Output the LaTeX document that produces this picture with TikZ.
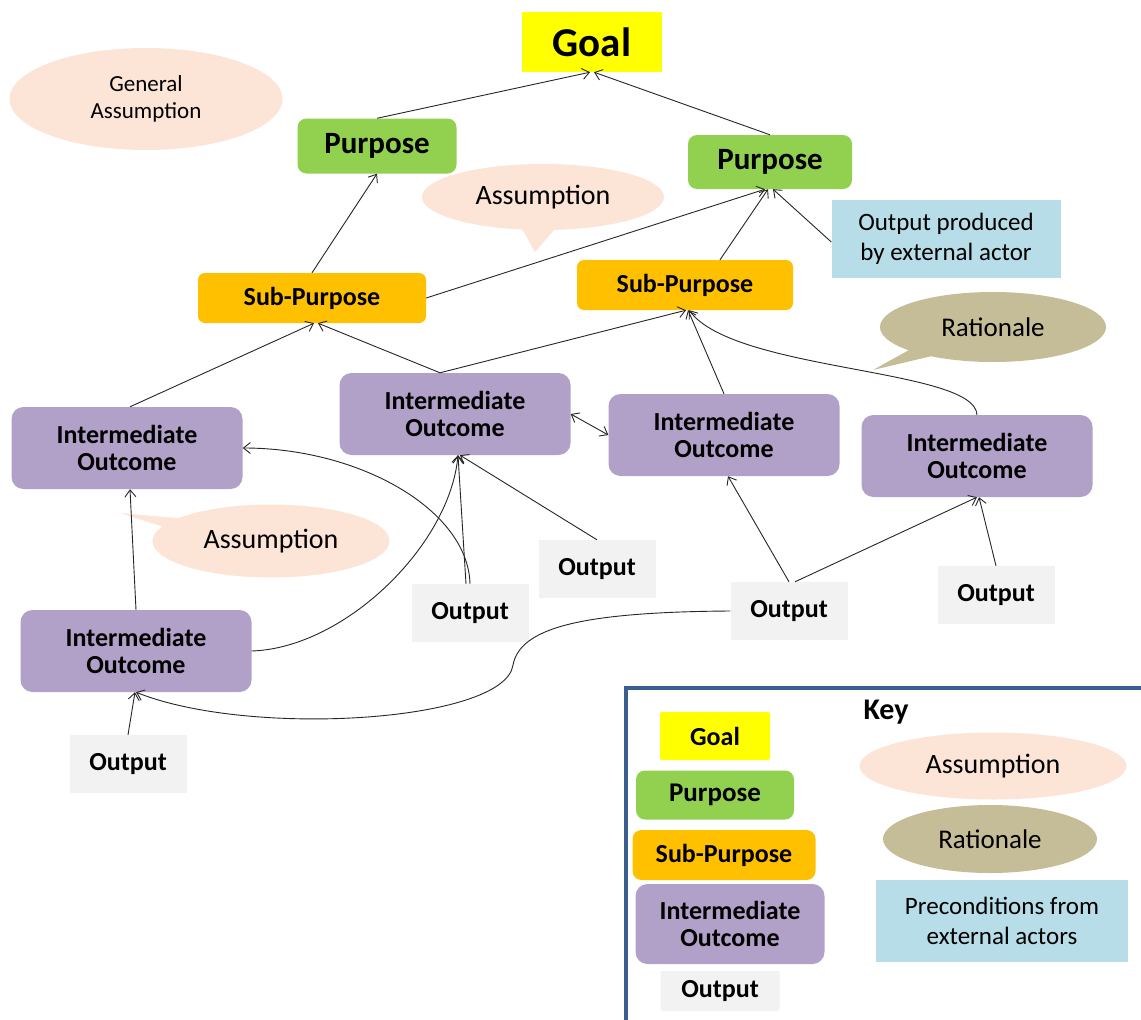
\documentclass[tikz,border=0pt]{standalone}
\usepackage{fontspec}
\setmainfont{Carlito}
\usepackage{xcolor}
\usetikzlibrary{arrows.meta,shapes.geometric,shapes.callouts}
\definecolor{goalc}{HTML}{FFFF00}
\definecolor{purpc}{HTML}{92D050}
\definecolor{subpc}{HTML}{FFC000}
\definecolor{interc}{HTML}{B1A0C7}
\definecolor{outc}{HTML}{F2F2F2}
\definecolor{extc}{HTML}{B7DEE8}
\definecolor{asmc}{HTML}{FCE4D6}
\definecolor{ratc}{HTML}{C4BD97}
\definecolor{keyc}{HTML}{3A5F8E}

\begin{document}
\begin{tikzpicture}[x=1pt, y=-1pt, box/.style={inner sep=0pt, align=center, font=\bfseries\fontsize{26}{27}\selectfont}, goal/.style={box,fill=goalc}, purp/.style={box,fill=purpc,rounded corners=9pt,font=\bfseries\fontsize{31}{32}\selectfont}, subp/.style={box,fill=subpc,rounded corners=7pt}, inter/.style={box,fill=interc,rounded corners=12pt,minimum width=231pt,minimum height=82pt}, outp/.style={box,fill=outc,minimum width=117pt,minimum height=58pt}, ext/.style={box,fill=extc,font=\fontsize{25}{30}\selectfont}, asm/.style={ellipse,inner sep=0pt,align=center,fill=asmc,font=\fontsize{28}{29}\selectfont}, rat/.style={asm,fill=ratc,font=\fontsize{27}{28}\selectfont}, arr/.style={-{Straight Barb[length=7pt,width=11pt]},line width=0.9pt,draw=black!85}, darr/.style={arr,{Straight Barb[length=7pt,width=11pt]}-{Straight Barb[length=7pt,width=11pt]}}]
\fill[white] (0,0) rectangle (1141,1020);
\useasboundingbox (0,0) rectangle (1141,1020);
% main chart
\node[goal,minimum width=140pt,minimum height=60pt,font=\bfseries\fontsize{41}{41}\selectfont] (g) at (592,42) {Goal};
\node[purp,minimum width=159pt,minimum height=55pt] (p1) at (377,146) {Purpose};
\node[purp,minimum width=164pt,minimum height=54pt] (p2) at (770,162) {Purpose};
\node[ext,minimum width=229pt,minimum height=78pt] (ex) at (946,239) {Output produced\\by external actor};
\node[subp,minimum width=228pt,minimum height=50pt] (sp1) at (312,298) {Sub-Purpose};
\node[subp,minimum width=216pt,minimum height=50pt] (sp2) at (685,285) {Sub-Purpose};
\node[inter] (io1) at (127,448) {Intermediate\\Outcome};
\node[inter] (io2) at (455,414) {Intermediate\\Outcome};
\node[inter] (io3) at (724,435) {Intermediate\\Outcome};
\node[inter] (io4) at (977,456) {Intermediate\\Outcome};
\node[inter] (io5) at (136,651) {Intermediate\\Outcome};
\node[outp] (o1) at (470,613) {Output};
\node[outp] (o2) at (597,569) {Output};
\node[outp] (o3) at (789,611) {Output};
\node[outp] (o4) at (996,595) {Output};
\node[outp] (o5) at (128,764) {Output};
% assumptions and rationale
\node[asm,minimum width=273pt,minimum height=102pt,font=\fontsize{23}{27}\selectfont] (ga) at (146,99) {General\\Assumption};
\node[asm,ellipse callout,callout absolute pointer={(535,252)},minimum width=242pt,minimum height=66pt] (a1) at (543,197) {Assumption};
\node[rat,ellipse callout,callout absolute pointer={(873,370)},minimum width=226pt,minimum height=70pt] (r1) at (993,327) {Rationale};
\node[asm,ellipse callout,callout absolute pointer={(120,513)},minimum width=237pt,minimum height=73pt] (a2) at (271,541) {Assumption};
% links
\draw[arr] (p1.north) -- ([xshift=-2pt]g.south);
\draw[arr] (p2.north) -- ([xshift=2pt]g.south);
\draw[arr] (sp1.north) -- (p1.south);
\draw[arr] (sp1.east) -- ([xshift=-5pt]p2.south);
\draw[arr] ([xshift=35pt]sp2.north) -- ([xshift=-2pt]p2.south);
\draw[arr] ([yshift=-3pt]ex.west) -- ([xshift=3pt]p2.south);
\draw[arr] ([xshift=3pt]io1.north) -- ([xshift=2pt]sp1.south);
\draw[arr] ([xshift=-15pt]io2.north) -- ([xshift=6pt]sp1.south);
\draw[arr] ([xshift=-15pt]io2.north) -- ([xshift=1pt]sp2.south);
\draw[arr] (io3.north) -- ([xshift=3pt]sp2.south);
\draw[arr] (io4.north) .. controls (975,368) and (735,372) .. ([xshift=4pt]sp2.south);
\draw[darr] (io2.east) -- (io3.west);
\draw[arr] (io5.north) -- ([xshift=3pt]io1.south);
\draw[arr] (io5.east) .. controls (345,648) and (450,545) .. ([xshift=3pt]io2.south);
\draw[arr] (o1.north) .. controls (468,510) and (360,448) .. (io1.east);
\draw[arr] ([xshift=-4pt]o1.north) -- ([xshift=3pt]io2.south);
\draw[arr] (o2.north) -- ([xshift=5pt]io2.south);
\draw[arr] (o3.north) -- ([xshift=4pt]io3.south);
\draw[arr] ([xshift=6pt]o3.north) -- (io4.south);
\draw[arr] (o4.north) -- ([xshift=2pt]io4.south);
\draw[arr] (o3.west) .. controls (580,612) and (520,628) .. (513,665) .. controls (505,722) and (250,738) .. (io5.south);
\draw[arr] (o5.north) -- ([xshift=-1pt]io5.south);
% key
\draw[keyc,line width=4pt] (626,1040) -- (626,688) -- (1160,688);
\node[font=\bfseries\fontsize{30}{30}\selectfont] (kt) at (886,712) {Key};
\node[goal,rounded corners=2pt,minimum width=110pt,minimum height=48pt] (kg) at (715,736) {Goal};
\node[purp,font=\bfseries\fontsize{27}{27}\selectfont,minimum width=158pt,minimum height=49pt] (kp) at (715,795) {Purpose};
\node[subp,rounded corners=9pt,minimum width=183pt,minimum height=50pt] (ks) at (724,855) {Sub-Purpose};
\node[inter,minimum width=189pt,minimum height=80pt] (ki) at (730,924) {Intermediate\\Outcome};
\node[outp,rounded corners=2pt,minimum width=119pt,minimum height=40pt] (ko) at (720,991) {Output};
\node[asm,minimum width=267pt,minimum height=67pt] (ka) at (993,766) {Assumption};
\node[rat,minimum width=214pt,minimum height=68pt] (kr) at (990,839) {Rationale};
\node[ext,minimum width=252pt,minimum height=82pt] (ke) at (1002,921) {Preconditions from\\external actors};
\end{tikzpicture}
\end{document}
